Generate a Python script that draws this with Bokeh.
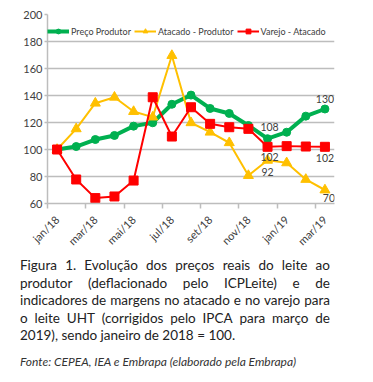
from bokeh.plotting import figure
from bokeh.models import Range1d, FixedTicker, Legend, LegendItem, Div, ColumnDataSource
from bokeh.layouts import column
from bokeh.embed import file_html
from bokeh.resources import INLINE
from bokeh.core.properties import value
import math

months = ["jan/18", "fev/18", "mar/18", "abr/18", "mai/18", "jun/18", "jul/18", "ago/18",
          "set/18", "out/18", "nov/18", "dez/18", "jan/19", "fev/19", "mar/19"]
y_ticks = [60, 80, 100, 120, 140, 160, 180, 200]

preco_produtor = [100, 102.2, 107.4, 110.4, 117.3, 119.8, 133.5, 140.3, 130.4, 126.7, 117.8, 108, 112.8, 124.7, 130]
atacado_produtor = [100, 115.3, 134.3, 138.7, 128.1, 124.0, 169.6, 119.8, 112.8, 105.0, 80.7, 92, 90.1, 77.8, 70]
varejo_atacado = [100, 77.8, 64.0, 65.2, 77.0, 138.7, 109.6, 131.3, 119.0, 116.5, 115.3, 102, 102.5, 102.2, 102]

series_names = ["Preço Produtor", "Atacado - Produtor", "Varejo - Atacado"]

caption_lines = [
    "Figura 1. Evolução dos preços reais do leite ao",
    "produtor (deflacionado pelo ICPLeite) e de",
    "indicadores de margens no atacado e no varejo para",
    "o leite UHT (corrigidos pelo IPCA para março de",
    "2019), sendo janeiro de 2018 = 100.",
]
source_line = "Fonte: CEPEA, IEA e Embrapa (elaborado pela Embrapa)"

FONT = "Lato"
GRID = "#BDBDBD"
TXT = "#404040"

x = list(range(len(months)))

p = figure(width=370, height=261, output_backend="svg", toolbar_location=None,
           x_range=Range1d(-0.5, len(months) - 0.5), y_range=Range1d(60, 200),
           min_border_left=47, min_border_right=36, min_border_top=14, min_border_bottom=58)
p.outline_line_color = None
p.background_fill_color = "white"
p.border_fill_color = "white"

# axes
p.xaxis.ticker = FixedTicker(ticks=[i for i in x if i % 2 == 0],
                             minor_ticks=[i - 0.5 for i in x if i % 2 == 0])
p.xaxis.major_label_overrides = {i: months[i] for i in x if i % 2 == 0}
p.xaxis.major_label_orientation = math.pi / 4
p.xaxis.major_tick_out = 0
p.xaxis.major_tick_in = 0
p.xaxis.minor_tick_out = 5
p.xaxis.minor_tick_in = 0
p.xaxis.minor_tick_line_color = GRID
p.xaxis.minor_tick_line_width = 1.5
p.xaxis.major_label_standoff = 9

p.yaxis.ticker = FixedTicker(ticks=y_ticks)
p.yaxis.major_tick_out = 3
p.yaxis.major_tick_in = 0
p.yaxis.minor_tick_line_color = None
p.yaxis.major_label_standoff = 2

for ax in (p.xaxis, p.yaxis):
    ax.axis_line_color = GRID
    ax.axis_line_width = 1.5
    ax.major_tick_line_color = GRID
    ax.major_tick_line_width = 1.5
    ax.major_label_text_font = FONT
    ax.major_label_text_font_size = "11px"
    ax.major_label_text_color = TXT

p.xgrid.visible = False
p.ygrid.ticker = FixedTicker(ticks=y_ticks)
p.ygrid.grid_line_color = GRID
p.ygrid.grid_line_width = 1.5

src = ColumnDataSource(dict(x=x, g=preco_produtor, a=atacado_produtor, v=varejo_atacado))

gl = p.line("x", "g", source=src, line_color="#00B050", line_width=4)
gs = p.scatter("x", "g", source=src, marker="circle", size=8, fill_color="#00B050", line_color="#00B050")
al = p.line("x", "a", source=src, line_color="#FFC000", line_width=2)
as_ = p.scatter("x", "a", source=src, marker="triangle", size=10, fill_color="#FFC000", line_color="#FFC000")
vl = p.line("x", "v", source=src, line_color="#FF0000", line_width=2)
vs = p.scatter("x", "v", source=src, marker="square", size=9, fill_color="#FF0000", line_color="#FF0000")

# data labels
lab_idx = [14, 11, 11, 11, 14, 14]
lab_vals = [preco_produtor[14], preco_produtor[11], varejo_atacado[11], atacado_produtor[11],
            varejo_atacado[14], atacado_produtor[14]]
lab_dx = [0, 2, 2, 0, 0, 4]
lab_dy = [-6, -8, 6, 8, 7, 4]
lab_base = ["bottom", "bottom", "top", "top", "top", "top"]
lab_src = ColumnDataSource(dict(x=lab_idx, y=lab_vals, t=[str(int(round(v))) for v in lab_vals],
                                dx=lab_dx, dy=lab_dy, b=lab_base))
p.text("x", "y", text="t", source=lab_src, x_offset="dx", y_offset="dy",
       text_align="center", text_baseline="b", text_font=value(FONT),
       text_font_size="10.5px", text_color=TXT)

legend = Legend(items=[LegendItem(label=series_names[0], renderers=[gl, gs]),
                       LegendItem(label=series_names[1], renderers=[al, as_]),
                       LegendItem(label=series_names[2], renderers=[vl, vs])],
                orientation="horizontal", location=(0, 166),
                glyph_width=22, glyph_height=12, label_height=12, label_standoff=2,
                spacing=3, padding=0, margin=0,
                label_text_font=FONT, label_text_font_size="9px", label_text_color=TXT,
                background_fill_alpha=0, border_line_color=None)
p.add_layout(legend)

html = ("<div style='width:310px;margin-left:20px;margin-top:-4px;font-family:Lato;"
        "font-size:13.5px;line-height:17.6px;color:#222;'>")
for i, ln in enumerate(caption_lines):
    if i < len(caption_lines) - 1:
        words = "".join(f"<span>{w}</span>" for w in ln.split(" "))
        html += f"<div style='display:flex;justify-content:space-between;white-space:nowrap;'>{words}</div>"
    else:
        html += f"<div style='white-space:nowrap;'>{ln}</div>"
html += (f"<div style='margin-top:8px;font-style:italic;font-size:12px;color:#333;"
         f"white-space:nowrap;'>{source_line}</div>")
html += "</div>"
div = Div(text=html, width=370, margin=(0, 0, 0, 0))

layout = column(p, div, spacing=0)
open("out.html", "w").write(file_html(layout, INLINE))
